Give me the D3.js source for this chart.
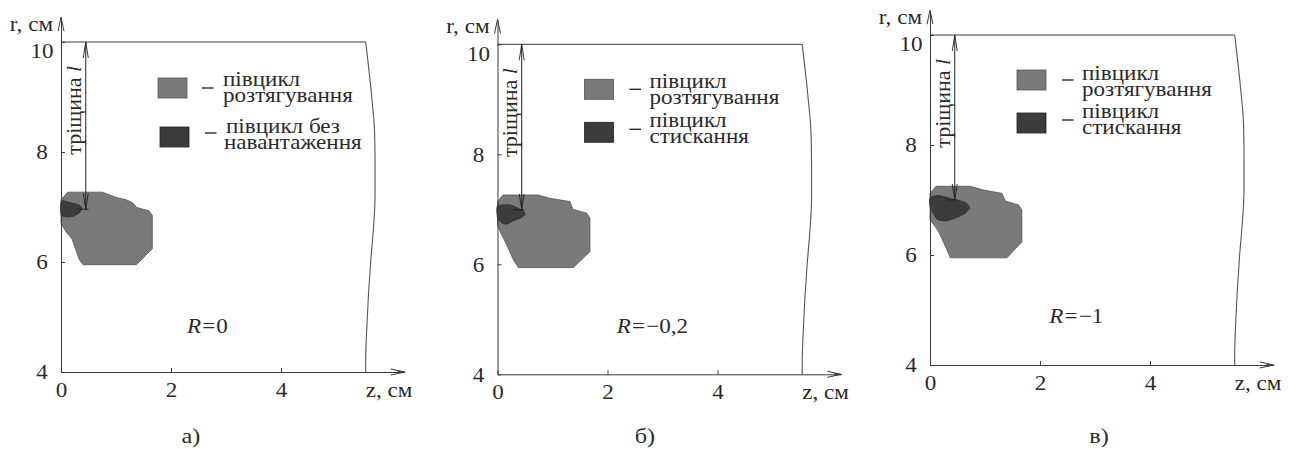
<!DOCTYPE html>
<html lang="uk">
<head>
<meta charset="UTF-8">
<title>Зони пластичності</title>
<script src="https://d3js.org/d3.v7.min.js"></script>
<style>
  body { margin: 0; background: #fff; }
  svg, svg text { font-family: "Liberation Serif", "Tinos", "Times New Roman", "DejaVu Serif", serif; }
  svg text { fill: #2b2b2b; }
</style>
</head>
<body>
<svg width="1289" height="449"></svg>
<script>
// tick labels and captions
const zTicks = [0, 2, 4];
const rTicks = [4, 6, 8, 10];
const captions = ['а)', 'б)', 'в)'];
const rValues = ['0', '−0,2', '−1'];
const legendFirst = ['півцикл', 'розтягування'];
const legendSecond = [['півцикл без', 'навантаження'], ['півцикл', 'стискання'], ['півцикл', 'стискання']];

// outer contour of the specimen (right side), z in cm for each r
const boundaryR = [10, 9.0, 8.4, 7.8, 7.2, 6.6, 6.0, 5.4, 4.8, 4.2, 4];
const boundaryZ = [5.54, 5.65, 5.70, 5.71, 5.71, 5.68, 5.63, 5.59, 5.56, 5.54, 5.54];

// crack tip
const crackZ = [0.45, 0.44, 0.45];
const crackR = [6.96, 6.99, 7.0];

// plastic zone, tension half-cycle
const tensionZ_a = [0, 0.12, 0.75, 1.02, 1.19, 1.31, 1.38, 1.60, 1.66, 1.66, 1.37, 0.40, 0.33, 0.20, 0.09, 0];
const tensionR_a = [7.13, 7.27, 7.27, 7.17, 7.13, 7.07, 6.99, 6.93, 6.85, 6.24, 5.95, 5.95, 6.05, 6.42, 6.55, 6.71];
const tensionZ_b = [0, 0.10, 0.74, 0.95, 1.32, 1.37, 1.62, 1.68, 1.68, 1.38, 0.38, 0.29, 0.14, 0.05, 0];
const tensionR_b = [7.14, 7.26, 7.26, 7.20, 7.14, 7.00, 6.93, 6.84, 6.23, 5.94, 5.94, 6.08, 6.41, 6.59, 6.71];
const tensionZ_c = [0, 0.11, 0.73, 0.98, 1.31, 1.37, 1.61, 1.67, 1.67, 1.40, 0.37, 0.31, 0.16, 0.07, 0];
const tensionR_c = [7.12, 7.25, 7.25, 7.18, 7.12, 6.98, 6.91, 6.82, 6.24, 5.95, 5.95, 6.09, 6.42, 6.55, 6.64];

// second zone (unloading / compression half-cycle)
const secondZ_a = [0, 0.10, 0.20, 0.32, 0.38, 0.33, 0.22, 0.10, 0];
const secondR_a = [7.10, 7.10, 7.07, 7.04, 6.98, 6.89, 6.83, 6.82, 6.86];
const secondZ_b = [0, 0.23, 0.35, 0.47, 0.50, 0.44, 0.29, 0.17, 0.08, 0];
const secondR_b = [7.06, 7.08, 7.03, 6.97, 6.91, 6.85, 6.79, 6.73, 6.75, 6.84];
const secondZ_c = [0, 0.16, 0.40, 0.64, 0.72, 0.64, 0.46, 0.28, 0.13, 0.04, 0];
const secondR_c = [7.04, 7.08, 7.02, 6.96, 6.86, 6.76, 6.67, 6.62, 6.65, 6.79, 6.88];

const tensionZ = [tensionZ_a, tensionZ_b, tensionZ_c];
const tensionR = [tensionR_a, tensionR_b, tensionR_c];
const secondZ = [secondZ_a, secondZ_b, secondZ_c];
const secondR = [secondR_a, secondR_b, secondR_c];

// layout of the three panels (pixels)
const K = 55;            // px per cm
const zMax = 6.25, rMax = 10.45;
const panels = [
  { ox: 61, oy: 372, rect1: [97, 36], rect2: [99, 85], dash1: [141, 46], dash2: [144, 91],
    text1: [162, 44, 60], text2: [165, 91, 107], rPos: [2.29, 4.71], cap: 191 },
  { ox: 497.5, oy: 374.3, rect1: [87, 35], rect2: [87, 78], dash1: [132, 45], dash2: [132, 85],
    text1: [152, 44, 60], text2: [152, 83, 99], rPos: [2.17, 4.75], cap: 645 },
  { ox: 930, oy: 365, rect1: [87, 35], rect2: [87, 78], dash1: [132, 45], dash2: [132, 85],
    text1: [152, 45, 61], text2: [152, 83, 99], rPos: [2.17, 4.76], cap: 1099 }
];

const GRAY = '#7a7a7a', DARK = '#3c3c3c', INK = '#3a3a3a';
const FONT = '"Liberation Serif", "Tinos", "Times New Roman", "DejaVu Serif", serif';
const FS = 21, SX = 1.1;

const svg = d3.select('svg');

function label(g, x, y, str, size, anchor) {
  return g.append('text')
    .attr('transform', `translate(${x},${y}) scale(${SX},1)`)
    .style('font-family', FONT)
    .attr('font-size', size || FS)
    .attr('text-anchor', anchor || 'start')
    .text(str);
}

panels.forEach((p, i) => {
  const g = svg.append('g');
  const x = d3.scaleLinear().domain([0, zMax]).range([p.ox, p.ox + zMax * K]);
  const y = d3.scaleLinear().domain([4, rMax]).range([p.oy, p.oy - (rMax - 4) * K]);
  const top = y(10);

  const line = d3.line().x(d => x(d[0])).y(d => y(d[1]));

  // zones
  const tz = d3.zip(tensionZ[i], tensionR[i]);
  g.append('path').attr('d', line(tz) + 'Z')
    .attr('fill', GRAY).attr('stroke', '#555').attr('stroke-width', 0.8);
  const sz = d3.zip(secondZ[i], secondR[i]);
  g.append('path').attr('d', d3.line().x(d => x(d[0])).y(d => y(d[1])).curve(d3.curveCardinalClosed.tension(0.3))(sz))
    .attr('fill', DARK).attr('stroke', '#222').attr('stroke-width', 0.6);

  // axes
  const xAxis = g.append('g').attr('transform', `translate(0,${p.oy})`)
    .call(d3.axisBottom(x).tickValues(zTicks).tickFormat(d3.format('d'))
      .tickSize(-4).tickSizeOuter(0).tickPadding(10));
  const yAxis = g.append('g').attr('transform', `translate(${p.ox},0)`)
    .call(d3.axisLeft(y).tickValues(rTicks).tickFormat(d3.format('d'))
      .tickSize(-4).tickSizeOuter(0));
  [xAxis, yAxis].forEach(a => {
    a.attr('font-family', null);
    a.select('.domain').attr('stroke', INK).attr('stroke-width', 1);
    a.selectAll('.tick line').attr('stroke', INK);
    a.selectAll('text').attr('font-size', FS).attr('fill', '#2b2b2b').style('font-family', FONT);
  });
  xAxis.selectAll('text').attr('transform', `scale(${SX},1)`);
  yAxis.selectAll('text')
    .attr('text-anchor', 'middle')
    .attr('x', -19 / SX)
    .attr('transform', `scale(${SX},1)`)
    .attr('dy', d => d === 10 ? '0.75em' : '0.33em');

  // arrowheads of the axes
  const xt = x(zMax), yt = y(rMax);
  g.append('path').attr('d', `M${xt - 14},${p.oy - 3}L${xt},${p.oy}L${xt - 14},${p.oy + 3}`)
    .attr('fill', 'none').attr('stroke', INK).attr('stroke-width', 1);
  g.append('path').attr('d', `M${xt - 7},${p.oy - 1.5}L${xt},${p.oy}L${xt - 7},${p.oy + 1.5}Z`)
    .attr('fill', INK);
  g.append('path').attr('d', `M${p.ox - 3},${yt + 14}L${p.ox},${yt}L${p.ox + 3},${yt + 14}`)
    .attr('fill', 'none').attr('stroke', INK).attr('stroke-width', 1);

  // specimen contour
  g.append('line').attr('x1', x(0)).attr('x2', x(boundaryZ[0])).attr('y1', top).attr('y2', top)
    .attr('stroke', INK).attr('stroke-width', 1);
  g.append('path')
    .attr('d', d3.line().x(d => x(d[0])).y(d => y(d[1])).curve(d3.curveMonotoneY)(d3.zip(boundaryZ, boundaryR)))
    .attr('fill', 'none').attr('stroke', '#555').attr('stroke-width', 1.1);

  // crack, double arrow
  const cx = x(crackZ[i]), cy = y(crackR[i]);
  g.append('line').attr('x1', cx).attr('x2', cx).attr('y1', top).attr('y2', cy)
    .attr('stroke', '#222').attr('stroke-width', 1);
  g.append('path').attr('d', `M${cx - 2.5},${top + 16}L${cx},${top}L${cx + 2.5},${top + 16}`)
    .attr('fill', 'none').attr('stroke', '#222').attr('stroke-width', 0.9);
  g.append('path').attr('d', `M${cx - 2.5},${cy - 16}L${cx},${cy}L${cx + 2.5},${cy - 16}`)
    .attr('fill', 'none').attr('stroke', '#222').attr('stroke-width', 0.9);
  g.append('line').attr('x1', x(crackZ[i] - 0.16)).attr('x2', x(crackZ[i] + 0.05)).attr('y1', cy).attr('y2', cy)
    .attr('stroke', '#222').attr('stroke-width', 1);
  const cl = g.append('text')
    .attr('transform', `translate(${cx - 5},${y(7.95)}) rotate(-90)`)
    .style('font-family', FONT)
    .attr('font-size', 22);
  cl.append('tspan').text('тріщина ');
  cl.append('tspan').attr('font-style', 'italic').text('l');

  // legend
  g.append('rect').attr('x', p.ox + p.rect1[0]).attr('y', top + p.rect1[1]).attr('width', 29).attr('height', 20)
    .attr('fill', GRAY).attr('stroke', '#555').attr('stroke-width', 0.8);
  g.append('rect').attr('x', p.ox + p.rect2[0]).attr('y', top + p.rect2[1]).attr('width', 29).attr('height', 20)
    .attr('fill', DARK).attr('stroke', '#222').attr('stroke-width', 0.8);
  [p.dash1, p.dash2].forEach(d => {
    g.append('line').attr('x1', p.ox + d[0]).attr('x2', p.ox + d[0] + 11.5)
      .attr('y1', top + d[1]).attr('y2', top + d[1]).attr('stroke', '#2b2b2b').attr('stroke-width', 1.4);
  });
  label(g, p.ox + p.text1[0], top + p.text1[1], legendFirst[0]);
  label(g, p.ox + p.text1[0], top + p.text1[2], legendFirst[1]);
  label(g, p.ox + p.text2[0], top + p.text2[1], legendSecond[i][0]);
  label(g, p.ox + p.text2[0] - (i === 0 ? 2 : 0), top + p.text2[2], legendSecond[i][1]);

  // stress ratio
  const rt = g.append('text')
    .attr('transform', `translate(${x(p.rPos[0])},${y(p.rPos[1])}) scale(${SX},1)`)
    .style('font-family', FONT)
    .attr('font-size', FS);
  rt.append('tspan').attr('font-style', 'italic').text('R');
  rt.append('tspan').attr('dx', 1).text('=');
  rt.append('tspan').attr('dx', 1).text(rValues[i]);

  // axis titles
  label(g, p.ox - 8, top - 11, 'r, см', FS, 'end');
  label(g, x(boundaryZ[boundaryZ.length - 1]), p.oy + 25, 'z, см');

  // caption
  label(g, p.cap, 443, captions[i], 22, 'middle');
});
</script>
</body>
</html>
